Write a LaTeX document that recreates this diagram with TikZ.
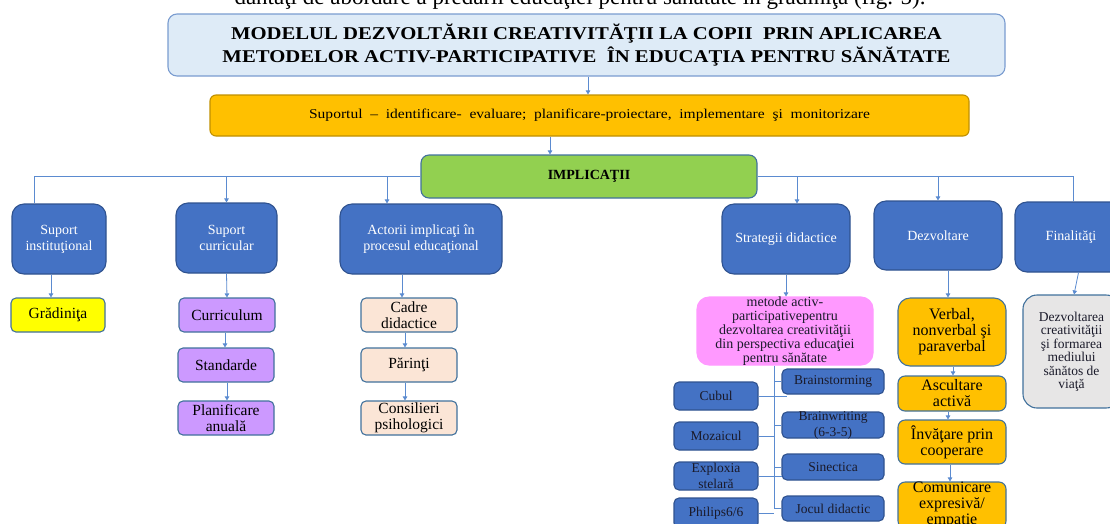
\documentclass[tikz,border=0pt]{standalone}
\usepackage{fontspec}
\setmainfont{Liberation Serif}
\newfontfamily\widefont[FakeStretch=1.15]{Liberation Serif}
\usetikzlibrary{arrows.meta}
\definecolor{lnk}{HTML}{5B8BD0}
\definecolor{bdr}{HTML}{41719C}
\definecolor{bluebox}{HTML}{4472C4}
\definecolor{blueedge}{HTML}{2F528F}
\definecolor{titlefill}{HTML}{DEEBF7}
\definecolor{titleedge}{HTML}{7A9CD0}
\definecolor{orangefill}{HTML}{FFC000}
\definecolor{orangeedge}{HTML}{C09000}
\definecolor{greenfill}{HTML}{92D050}
\definecolor{purplefill}{HTML}{CC99FF}
\definecolor{peachfill}{HTML}{FBE5D6}
\definecolor{pinkfill}{HTML}{FF99FF}
\definecolor{greyfill}{HTML}{E7E6E6}
\definecolor{yellowfill}{HTML}{FFFF00}
\definecolor{darktext}{HTML}{1A1A2A}
\newcommand\fsz[2]{\fontsize{#1}{#2}\selectfont}
% name, box style, text style, x1, y1, x2, y2, text
\newcommand\bx[8]{%
  \node[#2, minimum width={#6-#4}, minimum height={#7-#5}] (#1) at ({(#4+#6)/2},{(#5+#7)/2}) {};
  \node[txt, #3] (#1t) at (#1.center) {#8};}
\begin{document}
\begin{tikzpicture}[x=1pt,y=-1pt,
  shp/.style={draw, line width=1.1pt, inner sep=0pt, rectangle},
  txt/.style={inner sep=0pt, align=center},
  titlebox/.style={shp, fill=titlefill, draw=titleedge, rounded corners=9pt},
  orangebar/.style={shp, fill=orangefill, draw=orangeedge, rounded corners=6pt},
  greenbox/.style={shp, fill=greenfill, draw=bdr, rounded corners=8pt},
  lvltwo/.style={shp, fill=bluebox, draw=blueedge, rounded corners=12pt},
  lvltwotext/.style={text=white, font=\fsz{14}{16}},
  yellowbox/.style={shp, fill=yellowfill, draw=bdr, rounded corners=5pt},
  purplebox/.style={shp, fill=purplefill, draw=bdr, rounded corners=5pt},
  peachbox/.style={shp, fill=peachfill, draw=bdr, rounded corners=5pt},
  lvlthreetext/.style={text=black, font=\fsz{15.5}{16}},
  pinkbox/.style={shp, fill=pinkfill, draw=pinkfill, rounded corners=12pt},
  pinktext/.style={text=darktext, font=\fsz{14}{14}},
  methbox/.style={shp, fill=bluebox, draw=blueedge, rounded corners=5pt},
  methtext/.style={text=darktext, font=\fsz{13.5}{16}},
  devbox/.style={shp, fill=orangefill, draw=bdr, rounded corners=7pt},
  devbig/.style={shp, fill=orangefill, draw=bdr, rounded corners=12pt},
  devtext/.style={text=black, font=\fsz{16}{16}},
  greybox/.style={shp, fill=greyfill, draw=bdr, rounded corners=14pt},
  greytext/.style={text=darktext, font=\fsz{13.5}{13.5}},
  ln/.style={draw=lnk, line width=0.8pt},
  arr/.style={ln, -{Triangle[length=4pt,width=4.5pt]}}
]
\useasboundingbox (0,0) rectangle (1110,523);
\clip (0,0) rectangle (1110,523);

% cut-off line of body text above the figure
\node[anchor=base, inner sep=0pt, font=\fsz{23}{26}] (bodytext) at (580,4)
  {dantaţi de abordare a predării educaţiei pentru sănătate în grădiniţă (fig. 5).};

% top levels
\bx{title}{titlebox}{font=\widefont\bfseries\fsz{18}{23}}{168}{14}{1005}{76}
  {MODELUL DEZVOLTĂRII CREATIVITĂŢII LA COPII\ \ PRIN APLICAREA\\METODELOR ACTIV-PARTICIPATIVE\ \ ÎN EDUCAŢIA PENTRU SĂNĂTATE}
\bx{sup}{orangebar}{font=\widefont\fsz{13.5}{15}}{210}{95}{969}{136}
  {Suportul\ \ –\ \ identificare-\ \ evaluare;\ \ planificare-proiectare,\ \ implementare\ \ şi\ \ monitorizare}
\bx{impl}{greenbox}{font=\bfseries\fsz{14}{16}}{421}{155}{757}{198}{IMPLICAŢII}

% level two
\bx{si}{lvltwo}{lvltwotext}{12}{204}{106}{274}{Suport\\instituţional}
\bx{sc}{lvltwo}{lvltwotext}{176}{203}{277}{273}{Suport\\curricular}
\bx{ac}{lvltwo}{lvltwotext}{340}{204}{502}{274}{Actorii implicaţi în\\procesul educaţional}
\bx{sd}{lvltwo}{lvltwotext}{722}{204}{850}{274}{Strategii didactice}
\bx{dz}{lvltwo}{lvltwotext}{874}{201}{1002}{270}{Dezvoltare}
\bx{fin}{lvltwo}{lvltwotext}{1015}{202}{1127}{272}{Finalităţi}

% level three, left
\bx{gr}{yellowbox}{lvlthreetext}{11}{298}{105}{332}{Grădiniţa}
\bx{cur}{purplebox}{lvlthreetext}{179}{298}{275}{332}{Curriculum}
\bx{std}{purplebox}{lvlthreetext}{178}{348}{274}{382}{Standarde}
\bx{plan}{purplebox}{lvlthreetext}{178}{401}{274}{435}{Planificare\\anuală}
\bx{cadre}{peachbox}{lvlthreetext}{361}{298}{457}{332}{Cadre\\didactice}
\bx{par}{peachbox}{lvlthreetext}{361}{348}{457}{382}{Părinţi}
\bx{cons}{peachbox}{lvlthreetext}{361}{401}{457}{435}{Consilieri\\psihologici}

% strategies
\bx{pink}{pinkbox}{pinktext}{697}{297}{873}{365}
  {metode activ-\\participativepentru\\dezvoltarea creativităţii\\din perspectiva educaţiei\\pentru sănătate}
\bx{cub}{methbox}{methtext}{674}{382}{758}{410}{Cubul}
\bx{moz}{methbox}{methtext}{674}{422}{758}{450}{Mozaicul}
\bx{expl}{methbox}{methtext}{674}{462}{758}{490}{Exploxia\\stelară}
\bx{phi}{methbox}{methtext}{674}{498}{758}{528}{Philips6/6}
\bx{bs}{methbox}{methtext}{782}{369}{884}{394}{Brainstorming}
\bx{bw}{methbox}{methtext}{782}{412}{884}{438}{Brainwriting\\(6-3-5)}
\bx{sin}{methbox}{methtext}{782}{454}{884}{480}{Sinectica}
\bx{joc}{methbox}{methtext}{782}{496}{884}{521}{Jocul didactic}

% development
\bx{verb}{devbig}{devtext}{898}{298}{1006}{366}{Verbal,\\nonverbal şi\\paraverbal}
\bx{asc}{devbox}{devtext}{898}{376}{1006}{411}{Ascultare\\activă}
\bx{inv}{devbox}{devtext}{898}{420}{1006}{464}{Învăţare prin\\cooperare}
\bx{com}{devbox}{devtext}{898}{482}{1006}{528}{Comunicare\\expresivă/\\empatie}

% outcomes
\bx{grey}{greybox}{greytext}{1023}{295}{1120}{408}
  {Dezvoltarea\\creativităţii\\şi formarea\\mediului\\sănătos de\\viaţă}

% connectors: top
\draw[arr] ([xshift=1.5pt]title.south) -- ([xshift=1.5pt]title.south |- sup.north);
\draw[arr] ([xshift=-39.5pt]sup.south) -- ([xshift=-39.5pt]sup.south |- impl.north);

% connectors: implications to level two
\draw[ln] (impl.west) -| ([xshift=-25pt]si.north);
\draw[arr] (sc.north |- impl.west) -- (sc.north);
\draw[arr] ([xshift=-34pt]ac.north |- impl.west) -- ([xshift=-34pt]ac.north);
\draw[ln] (impl.east) -| ([xshift=2pt]fin.north);
\draw[arr] ([xshift=11pt]sd.north |- impl.east) -- ([xshift=11pt]sd.north);
\draw[arr] (dz.north |- impl.east) -- (dz.north);

% connectors: level two to level three
\draw[arr] ([xshift=-8pt]si.south) -- ([xshift=-7pt]gr.north);
\draw[arr] (sc.south) -- (cur.north);
\draw[arr] ([xshift=-2pt]cur.south) -- ([xshift=-1pt]std.north);
\draw[arr] ([xshift=1pt]std.south) -- ([xshift=1pt]plan.north);
\draw[arr] ([xshift=-19pt]ac.south) -- ([xshift=-7pt]cadre.north);
\draw[arr] ([xshift=-4pt]cadre.south) -- ([xshift=-4pt]par.north);
\draw[arr] ([xshift=-4pt]par.south) -- ([xshift=-4pt]cons.north);
\draw[arr] (sd.south) -- ([xshift=1pt]pink.north);
\draw[arr] ([xshift=10pt]dz.south) -- ([xshift=-4pt]verb.north);
\draw[arr] ([xshift=1pt]verb.south) -- ([xshift=1pt]asc.north);
\draw[arr] ([xshift=-4pt]asc.south) -- ([xshift=-4pt]inv.north);
\draw[arr] ([xshift=-2pt]inv.south) -- ([xshift=-2pt]com.north);
\draw[arr] ([xshift=7.5pt]fin.south) -- ([xshift=2.5pt]grey.north);

% strategy trunk and branches
\coordinate (trunk) at ([xshift=-11pt]pink.south);
\draw[ln] (trunk) -- (trunk |- joc.west);
\draw[ln] (trunk |- bs.west) -- (bs.west);
\draw[ln] (trunk |- bw.west) -- (bw.west);
\draw[ln] (trunk |- sin.west) -- (sin.west);
\draw[ln] (trunk |- joc.west) -- (joc.west);
\draw[ln] (cub.east) -- ([xshift=13pt]cub.east -| trunk);
\draw[ln] (moz.east) -- (moz.east -| trunk);
\draw[ln] (expl.east) -- ([xshift=8pt]expl.east -| trunk);
\draw[ln] (phi.east) -- (phi.east -| trunk);
\end{tikzpicture}
\end{document}
